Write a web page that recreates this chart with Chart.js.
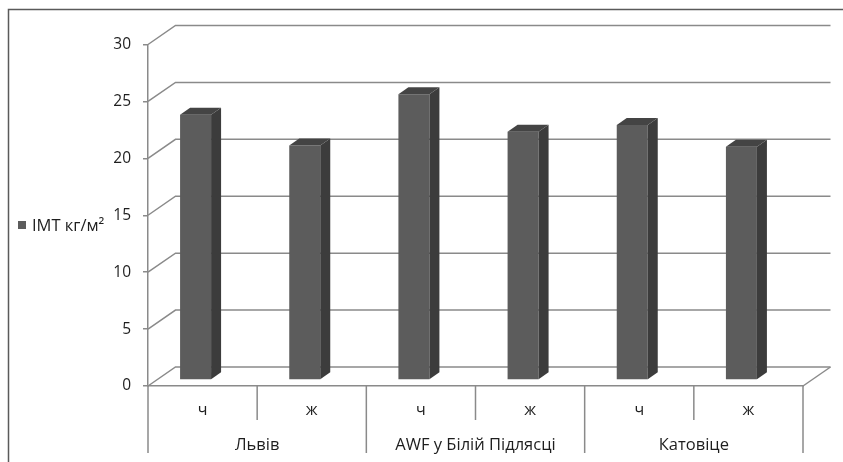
<!DOCTYPE html>
<html>
<head>
<meta charset="utf-8">
<script src="https://cdn.jsdelivr.net/npm/chart.js@4.4.1/dist/chart.umd.min.js"></script>
<style>
  html, body { margin: 0; padding: 0; background: #ffffff; }
  canvas { display: block; }
</style>
</head>
<body>
<canvas id="chart" width="843" height="462"></canvas>
<script>
// Body-mass index by sex in three cities
const subLabels = ['ч', 'ж', 'ч', 'ж', 'ч', 'ж'];
const groupLabels = ['Львів', 'AWF у Білій Підлясці', 'Катовіце'];
const imtValues = [23.3, 20.6, 25.1, 21.8, 22.4, 20.5];
const seriesName = 'IMT кг/м²';
const yMin = 0, yMax = 30, yStep = 5;

const FONT = "'Open Sans', sans-serif";
const TEXT = '#1e1e1e';
const LINE = '#8a8a8a';
const FRONT = '#5c5c5c', SIDE = '#3c3c3c', TOP = '#444444';
const WALL = { dx: 27.5, dy: -19 };     // depth of the back wall
const BAR_SHIFT = { dx: -7, dy: -6 };   // bars stand inside the floor
const BAR_DEPTH = { dx: 10, dy: -7 };   // visible depth of each bar

function poly(ctx, pts) {
  ctx.beginPath();
  ctx.moveTo(pts[0][0], pts[0][1]);
  for (let i = 1; i < pts.length; i++) ctx.lineTo(pts[i][0], pts[i][1]);
  ctx.closePath();
  ctx.fill();
}

const box3d = {
  id: 'box3d',
  beforeDraw(chart) {
    const ctx = chart.ctx;
    ctx.save();
    ctx.strokeStyle = '#5a5a5a';
    ctx.lineWidth = 1.5;
    ctx.strokeRect(8.5, 9.5, 900, 500);
    ctx.restore();
  },
  beforeDatasetsDraw(chart) {
    const { ctx, chartArea: a, scales: { x, y } } = chart;
    ctx.save();
    ctx.strokeStyle = LINE;
    ctx.lineWidth = 1.5;
    // gridlines on the back wall, joined to the value axis
    y.ticks.forEach(t => {
      const py = y.getPixelForValue(t.value);
      ctx.beginPath();
      ctx.moveTo(a.left, py);
      ctx.lineTo(a.left + WALL.dx, py + WALL.dy);
      ctx.lineTo(a.right + WALL.dx, py + WALL.dy);
      ctx.stroke();
    });
    // right edge of the floor
    ctx.beginPath();
    ctx.moveTo(a.right, a.bottom);
    ctx.lineTo(a.right + WALL.dx, a.bottom + WALL.dy);
    ctx.stroke();
    // dividers under the category axis
    const n = x.ticks.length;
    const step = (x.getPixelForTick(1) - x.getPixelForTick(0));
    const x2 = chart.scales.x2;
    for (let i = 0; i <= n; i++) {
      const px = x.getPixelForTick(0) - step / 2 + i * step;
      const end = (i % 2 === 0) ? x2.bottom - 9 : x.bottom;
      ctx.beginPath();
      ctx.moveTo(px, a.bottom);
      ctx.lineTo(px, end);
      ctx.stroke();
    }
    ctx.restore();
    // bars are drawn shifted into the depth of the floor
    ctx.save();
    ctx.translate(BAR_SHIFT.dx, BAR_SHIFT.dy);
  },
  afterDatasetsDraw(chart) {
    const ctx = chart.ctx;
    chart.getDatasetMeta(0).data.forEach(bar => {
      const { x, y, base, width } = bar.getProps(['x', 'y', 'base', 'width'], true);
      const l = x - width / 2, r = x + width / 2;
      const dx = BAR_DEPTH.dx, dy = BAR_DEPTH.dy;
      ctx.fillStyle = SIDE;
      poly(ctx, [[r, y], [r + dx, y + dy], [r + dx, base + dy], [r, base]]);
      ctx.fillStyle = TOP;
      poly(ctx, [[l, y], [l + dx, y + dy], [r + dx, y + dy], [r, y]]);
    });
    ctx.restore();
  },
  afterDraw(chart) {
    // legend entry on the left
    const ctx = chart.ctx;
    const ds = chart.data.datasets[0];
    ctx.save();
    ctx.fillStyle = ds.backgroundColor;
    ctx.fillRect(18, 221, 8, 8);
    ctx.fillStyle = TEXT;
    ctx.font = '16.5px ' + FONT;
    ctx.textBaseline = 'middle';
    ctx.textAlign = 'left';
    ctx.fillText(ds.label, 32, 226);
    ctx.restore();
  }
};

new Chart(document.getElementById('chart'), {
  type: 'bar',
  data: {
    labels: subLabels,
    datasets: [{
      label: seriesName,
      data: imtValues,
      backgroundColor: FRONT,
      borderWidth: 0,
      categoryPercentage: 1,
      barPercentage: 0.284,
      clip: false
    }]
  },
  options: {
    responsive: false,
    animation: false,
    events: [],
    layout: { padding: { left: 0, right: 40, top: 44.5, bottom: 0 } },
    plugins: { legend: { display: false }, tooltip: { enabled: false } },
    scales: {
      x: {
        type: 'category',
        offset: true,
        weight: 0,
        grid: { display: false, drawTicks: false },
        border: { display: true, color: LINE, width: 1.5 },
        ticks: { color: TEXT, font: { family: FONT, size: 16 }, padding: 15, maxRotation: 0 },
        afterFit(s) { s.height = 34; }
      },
      x2: {
        type: 'category',
        labels: groupLabels,
        position: 'bottom',
        offset: true,
        weight: 1,
        grid: { display: false, drawTicks: false },
        border: { display: false },
        ticks: { color: TEXT, font: { family: FONT, size: 16.5 }, padding: 15, maxRotation: 0 },
        afterFit(s) { s.height = 42; }
      },
      y: {
        min: yMin,
        max: yMax,
        ticks: { stepSize: yStep, color: TEXT, font: { family: FONT, size: 15.5 }, padding: 12 },
        grid: { drawOnChartArea: false, drawTicks: true, tickLength: 5, color: LINE, lineWidth: 1.5 },
        border: { display: true, color: LINE, width: 1.5 },
        afterFit(s) { s.width = 148; }
      }
    }
  },
  plugins: [box3d]
});
</script>
</body>
</html>
